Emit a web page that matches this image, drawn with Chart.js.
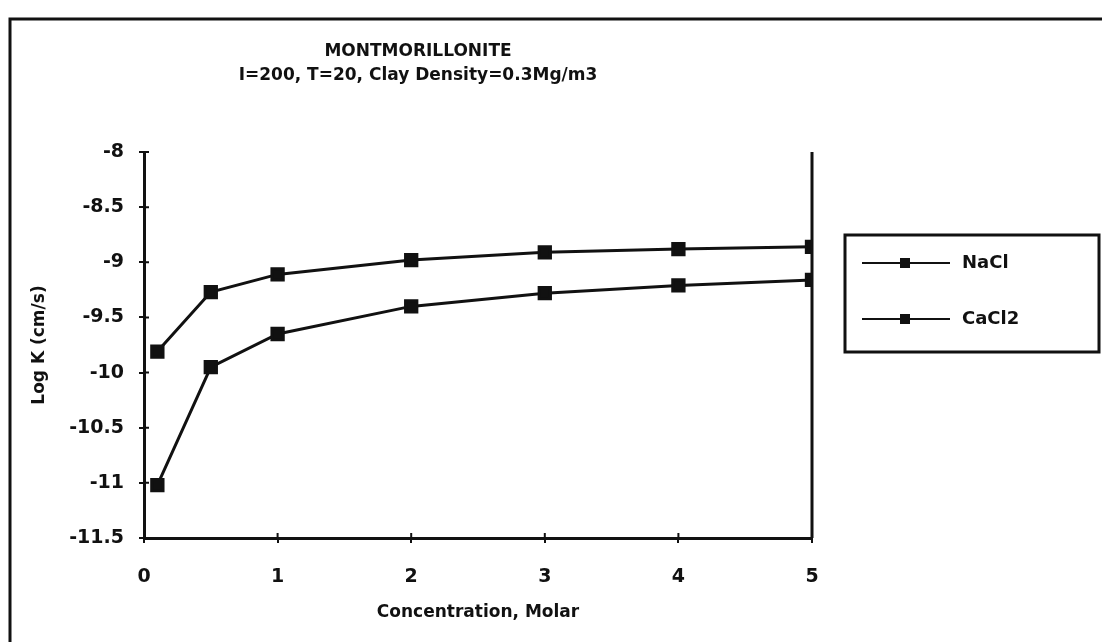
<!DOCTYPE html>
<html>
<head>
<meta charset="utf-8">
<script src="https://cdn.jsdelivr.net/npm/chart.js@4.4.1/dist/chart.umd.min.js"></script>
<style>
  html, body { margin: 0; padding: 0; background: #ffffff; }
  #wrap { width: 1102px; height: 642px; position: relative; }
</style>
</head>
<body>
<div id="wrap"><canvas id="c" width="1102" height="642"></canvas></div>
<script>
// ---- data ----
const concentrations = [0.1, 0.5, 1, 2, 3, 4, 5];
const seriesNames = ['NaCl', 'CaCl2'];
const naclValues  = [-9.81, -9.27, -9.11, -8.98, -8.91, -8.88, -8.86];
const cacl2Values = [-11.02, -9.95, -9.65, -9.40, -9.28, -9.21, -9.16];
const xTickValues = [0, 1, 2, 3, 4, 5];
const yTickValues = [-8, -8.5, -9, -9.5, -10, -10.5, -11, -11.5];
const titleLines = ['MONTMORILLONITE', 'I=200, T=20, Clay Density=0.3Mg/m3'];
const xAxisTitle = 'Concentration, Molar';
const yAxisTitle = 'Log K (cm/s)';

const FONT = '"DejaVu Sans", "Liberation Sans", sans-serif';
const INK = '#111111';

function pts(values) {
  return concentrations.map((x, i) => ({ x: x, y: values[i] }));
}

const framePlugin = {
  id: 'frame',
  beforeDraw(chart) {
    const ctx = chart.ctx;
    ctx.save();
    ctx.fillStyle = '#ffffff';
    ctx.fillRect(0, 0, chart.width, chart.height);
    ctx.strokeStyle = INK;
    ctx.lineWidth = 3;
    ctx.beginPath();
    ctx.moveTo(10, 642);
    ctx.lineTo(10, 19);
    ctx.lineTo(1102, 19);
    ctx.stroke();
    ctx.restore();
  },
  afterDraw(chart) {
    const ctx = chart.ctx;
    const a = chart.chartArea;
    const xs = chart.scales.x, ys = chart.scales.y;
    ctx.save();
    // right border of plot area
    ctx.strokeStyle = INK;
    ctx.lineWidth = 3;
    ctx.beginPath();
    ctx.moveTo(a.right, a.top);
    ctx.lineTo(a.right, a.bottom);
    ctx.stroke();
    // inner halves of the crossing tick marks
    ctx.lineWidth = 2;
    ctx.beginPath();
    xs.ticks.forEach(t => {
      const px = xs.getPixelForValue(t.value);
      ctx.moveTo(px, a.bottom);
      ctx.lineTo(px, a.bottom - 5);
    });
    ys.ticks.forEach(t => {
      const py = ys.getPixelForValue(t.value);
      ctx.moveTo(a.left, py);
      ctx.lineTo(a.left + 5, py);
    });
    ctx.stroke();
    // title
    ctx.fillStyle = INK;
    ctx.textAlign = 'center';
    ctx.textBaseline = 'middle';
    ctx.font = 'bold 17px ' + FONT;
    ctx.fillText(titleLines[0], 418, 52);
    ctx.fillText(titleLines[1], 418, 76);
    // legend
    const lx = 845, ly = 235, lw = 254, lh = 117;
    ctx.lineWidth = 3;
    ctx.strokeRect(lx, ly, lw, lh);
    chart.data.datasets.forEach((ds, i) => {
      const y = 263 + i * 56;
      ctx.lineWidth = 2;
      ctx.strokeStyle = INK;
      ctx.beginPath();
      ctx.moveTo(862, y);
      ctx.lineTo(950, y);
      ctx.stroke();
      ctx.fillStyle = INK;
      ctx.fillRect(905 - 5, y - 5, 10, 10);
      ctx.font = 'bold 18px ' + FONT;
      ctx.textAlign = 'left';
      ctx.textBaseline = 'middle';
      ctx.fillText(ds.label, 962, y);
    });
    ctx.restore();
  }
};

new Chart(document.getElementById('c'), {
  type: 'line',
  data: {
    datasets: [
      { label: seriesNames[0], data: pts(naclValues) },
      { label: seriesNames[1], data: pts(cacl2Values) }
    ].map(d => Object.assign(d, {
      borderColor: INK, backgroundColor: INK, borderWidth: 3,
      pointStyle: 'rect', pointRadius: 8, pointHoverRadius: 8,
      pointBackgroundColor: INK, pointBorderColor: INK, tension: 0
    }))
  },
  options: {
    responsive: false,
    animation: false,
    devicePixelRatio: 1,
    layout: { padding: { left: 0, right: 290, top: 152, bottom: 0 } },
    plugins: { legend: { display: false }, title: { display: false }, tooltip: { enabled: false } },
    scales: {
      x: {
        type: 'linear', min: 0, max: 5,
        afterFit(s) { s.height = 104; },
        afterBuildTicks(s) { s.ticks = xTickValues.map(v => ({ value: v })); },
        grid: { drawOnChartArea: false, drawTicks: true, tickLength: 5, color: INK, lineWidth: 2 },
        border: { display: true, color: INK, width: 3 },
        ticks: { color: INK, padding: 23, maxRotation: 0, font: { family: FONT, weight: 'bold', size: 19 } },
        title: { display: true, text: xAxisTitle, color: INK, padding: { top: 0, bottom: 19 },
                 font: { family: FONT, weight: 'bold', size: 17 } }
      },
      y: {
        type: 'linear', min: -11.5, max: -8,
        afterFit(s) { s.width = 144; },
        afterBuildTicks(s) { s.ticks = yTickValues.map(v => ({ value: v })); },
        grid: { drawOnChartArea: false, drawTicks: true, tickLength: 5, color: INK, lineWidth: 2 },
        border: { display: true, color: INK, width: 3 },
        ticks: { color: INK, padding: 15, font: { family: FONT, weight: 'bold', size: 19 },
                 callback: v => String(v) },
        title: { display: true, text: yAxisTitle, color: INK, padding: { top: 29, bottom: 0 },
                 font: { family: FONT, weight: 'bold', size: 17 } }
      }
    }
  },
  plugins: [framePlugin]
});
</script>
</body>
</html>
